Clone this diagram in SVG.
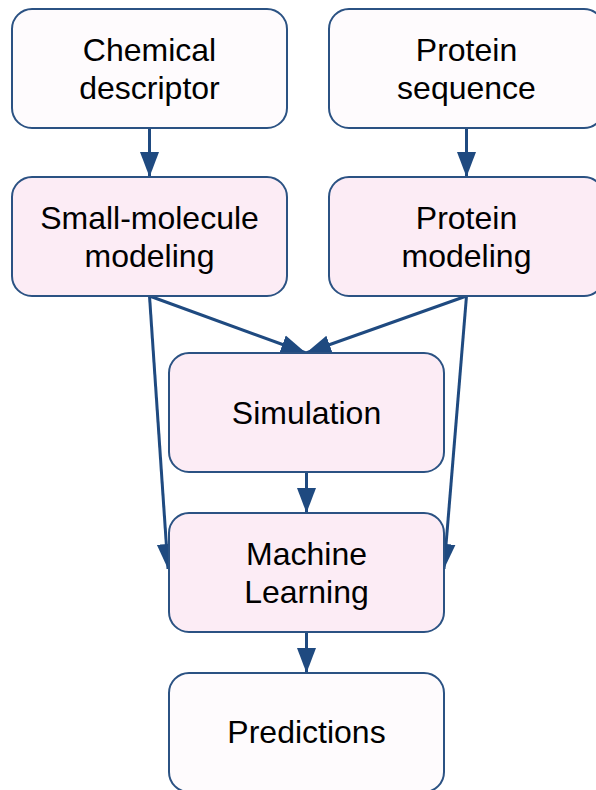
<svg xmlns="http://www.w3.org/2000/svg" width="596" height="790" viewBox="0 0 596 790">
<style>
.box{stroke:#2b5283;stroke-width:2}
.light{fill:#fefbfd}
.pink{fill:#fcecf5}
text{font-family:"Liberation Sans",Arial,sans-serif;font-size:32px;fill:#000;text-anchor:middle}
.edge{stroke:#1f4a80;stroke-width:3;fill:none;marker-end:url(#ah)}
</style>
<defs>
<marker id="ah" markerUnits="userSpaceOnUse" markerWidth="26" markerHeight="20" viewBox="0 0 26 20" refX="25" refY="10" orient="auto">
<path d="M0,0.5 L25,10 L0,19.5 Z" fill="#1f4a80"/>
</marker>
</defs>
<g id="connectors">
<line class="edge" x1="149.5" y1="128" x2="149.5" y2="177"/>
<line class="edge" x1="466.5" y1="128" x2="466.5" y2="177"/>
<line class="edge" x1="149.5" y1="296" x2="306" y2="353"/>
<line class="edge" x1="466.5" y1="296" x2="306" y2="353"/>
<line class="edge" x1="149.5" y1="296" x2="168" y2="569"/>
<line class="edge" x1="466.5" y1="296" x2="444" y2="569"/>
<line class="edge" x1="306.5" y1="472" x2="306.5" y2="513"/>
<line class="edge" x1="306.5" y1="632" x2="306.5" y2="673"/>
</g>
<g id="chemical">
<rect class="box light" x="12" y="9" width="275" height="119" rx="20"/>
<text x="149.5" y="61">Chemical</text>
<text x="149.5" y="99">descriptor</text>
</g>
<g id="protein-seq">
<rect class="box light" x="329" y="9" width="275" height="119" rx="20"/>
<text x="466.5" y="61">Protein</text>
<text x="466.5" y="99">sequence</text>
</g>
<g id="small-molecule">
<rect class="box pink" x="12" y="177" width="275" height="119" rx="20"/>
<text x="149.5" y="229">Small-molecule</text>
<text x="149.5" y="267">modeling</text>
</g>
<g id="protein-model">
<rect class="box pink" x="329" y="177" width="275" height="119" rx="20"/>
<text x="466.5" y="229">Protein</text>
<text x="466.5" y="267">modeling</text>
</g>
<g id="simulation">
<rect class="box pink" x="169" y="353" width="275" height="119" rx="20"/>
<text x="306.5" y="424">Simulation</text>
</g>
<g id="ml">
<rect class="box pink" x="169" y="513" width="275" height="119" rx="20"/>
<text x="306.5" y="565">Machine</text>
<text x="306.5" y="603">Learning</text>
</g>
<g id="predictions">
<rect class="box light" x="169" y="673" width="275" height="119" rx="20"/>
<text x="306.5" y="743">Predictions</text>
</g>
</svg>
